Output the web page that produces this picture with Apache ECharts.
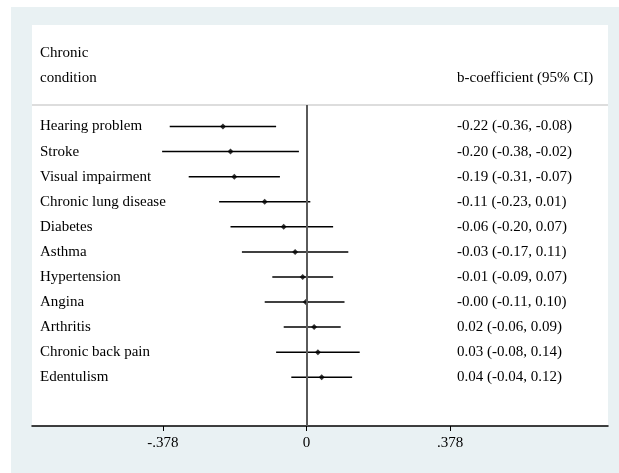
<!DOCTYPE html>
<html>
<head>
<meta charset="utf-8">
<script src="https://cdn.jsdelivr.net/npm/echarts@6/dist/echarts.min.js"></script>
<style>
html,body{margin:0;padding:0;background:#fff;}
#chart{width:619px;height:473px;}
</style>
</head>
<body>
<div id="chart"></div>
<script>
var conditions = ['Hearing problem','Stroke','Visual impairment','Chronic lung disease','Diabetes','Asthma','Hypertension','Angina','Arthritis','Chronic back pain','Edentulism'];
var estimates = [-0.22,-0.20,-0.19,-0.11,-0.06,-0.03,-0.01,-0.002,0.02,0.03,0.04];
var lower = [-0.36,-0.38,-0.31,-0.23,-0.20,-0.17,-0.09,-0.11,-0.06,-0.08,-0.04];
var upper = [-0.08,-0.02,-0.07,0.01,0.07,0.11,0.07,0.10,0.09,0.14,0.12];
var tickValues = [-0.378, 0, 0.378];
var tickLabels = ['-.378', '0', '.378'];

var FONT = '"Liberation Serif", "Times New Roman", serif';
var idx = conditions.map(function(_, i){ return i; });
function fmt(v){ return v.toFixed(2); }
var ciText = idx.map(function(i){ return fmt(estimates[i]) + ' (' + fmt(lower[i]) + ', ' + fmt(upper[i]) + ')'; });

var chart = echarts.init(document.getElementById('chart'), null, {renderer:'canvas'});
var yMin = -0.857, yMax = 11.943;
var option = {
  backgroundColor: '#ffffff',
  animation: false,
  graphic: [
    {type:'rect', z:-20, shape:{x:11,y:7,width:608,height:466}, style:{fill:'#e9f1f3'}, silent:true},
    {type:'rect', z:-19, shape:{x:32,y:25,width:576,height:401}, style:{fill:'#ffffff'}, silent:true},
    {type:'line', z:-18, shape:{x1:32,y1:105,x2:608,y2:105}, style:{stroke:'#d2d2d2', lineWidth:1.5}, silent:true},
    {type:'text', x:40, y:53, style:{text:'Chronic', font:'15px ' + FONT, fill:'#000', verticalAlign:'middle', align:'left'}},
    {type:'text', x:40, y:78, style:{text:'condition', font:'15px ' + FONT, fill:'#000', verticalAlign:'middle', align:'left'}},
    {type:'text', x:457, y:78, style:{text:'b-coefficient (95% CI)', font:'15px ' + FONT, fill:'#000', verticalAlign:'middle', align:'left'}}
  ],
  grid: {left:32, right:11, top:105, bottom:47, containLabel:false},
  xAxis: {
    type:'value', min:-0.7224, max:0.7934, position:'bottom',
    axisLine:{show:true, onZero:false, lineStyle:{color:'#000', width:1.5}},
    axisTick:{show:true, customValues:tickValues, length:5, lineStyle:{color:'#000', width:1}},
    axisLabel:{show:true, customValues:tickValues, margin:10, fontFamily:FONT, fontSize:15, color:'#000',
      formatter:function(v){ var k = tickValues.indexOf(v); return k >= 0 ? tickLabels[k] : ''; }},
    splitLine:{show:false}
  },
  yAxis: [
    {
      type:'value', inverse:true, min:yMin, max:yMax, position:'left',
      axisLine:{show:false}, axisTick:{show:false}, splitLine:{show:false},
      axisLabel:{show:true, customValues:idx, align:'left', margin:-8, fontFamily:FONT, fontSize:15, color:'#000',
        formatter:function(v){ return conditions[v] || ''; }}
    },
    {
      type:'value', inverse:true, min:yMin, max:yMax, position:'right',
      axisLine:{show:false}, axisTick:{show:false}, splitLine:{show:false},
      axisLabel:{show:true, customValues:idx, align:'left', margin:-151, fontFamily:FONT, fontSize:15, color:'#000',
        formatter:function(v){ return ciText[v] || ''; }}
    }
  ],
  series: [
    {
      type:'custom', xAxisIndex:0, yAxisIndex:0, z:3,
      data: idx.map(function(i){ return [lower[i], upper[i], i]; }),
      renderItem: function(params, api){
        var p1 = api.coord([api.value(0), api.value(2)]);
        var p2 = api.coord([api.value(1), api.value(2)]);
        return {type:'line', shape:{x1:p1[0], y1:p1[1], x2:p2[0], y2:p2[1]}, style:{stroke:'#000', lineWidth:1.5}};
      },
      encode:{x:[0,1], y:2}
    },
    {
      type:'scatter', xAxisIndex:0, yAxisIndex:0, z:4,
      symbol:'diamond', symbolSize:6,
      itemStyle:{color:'#000'},
      data: idx.map(function(i){ return [estimates[i], i]; }),
      markLine:{
        silent:true, symbol:['none','none'], label:{show:false},
        lineStyle:{color:'#5a5a5a', width:2, type:'solid'},
        data:[{xAxis:0}]
      }
    }
  ]
};
chart.setOption(option);
</script>
</body>
</html>
